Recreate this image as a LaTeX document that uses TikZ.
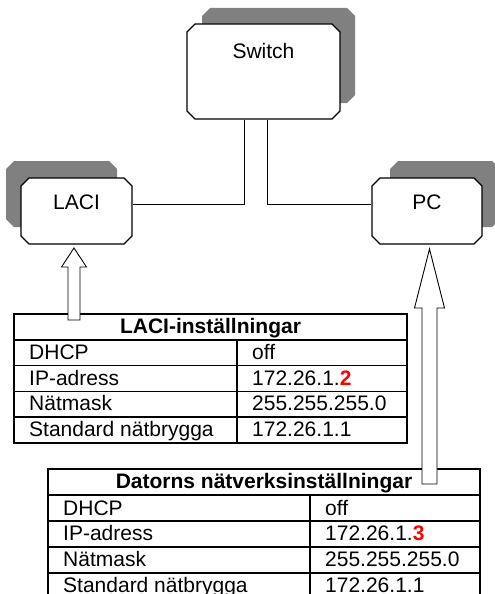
\documentclass[tikz,border=0pt]{standalone}
\usepackage{fontspec}
\setmainfont{Liberation Sans}
\usetikzlibrary{calc,shapes.misc,shadows}
\definecolor{shadegray}{RGB}{128,128,128}
\definecolor{ipred}{RGB}{255,0,0}
\def\hollowarrow[#1](#2)(#3:#4:#5:#6){\draw[#1] ($(#2)+({-#4},0)$) -- ($(#2)+({-#4},{#3-#6})$) -- ($(#2)+({-#5},{#3-#6})$) -- ($(#2)+(0,#3)$) -- ($(#2)+(#5,{#3-#6})$) -- ($(#2)+(#4,{#3-#6})$) -- ($(#2)+(#4,0)$) -- cycle;}
\tikzset{
  devbox/.style={chamfered rectangle, chamfered rectangle xsep=4pt, chamfered rectangle ysep=4pt,
    draw, line width=1.1pt, fill=white, inner sep=0pt, font=\fontsize{21}{25}\selectfont},
  wire/.style={line width=1pt},
  tabline/.style={line width=1.6pt},
  cell/.style={anchor=base west, inner sep=0pt, font=\fontsize{21}{25}\selectfont},
  headcell/.style={anchor=base, inner sep=0pt, font=\fontsize{21}{25}\selectfont\bfseries}
}

\begin{document}
\begin{tikzpicture}[x=1pt, y=1pt]
  %%%%% START %%%%%
  \clip (0,0) rectangle (495,-594);

  \node[devbox, general shadow={fill=shadegray, shadow xshift=15pt, shadow yshift=16pt},
    minimum width=153pt, minimum height=95pt, text depth=42pt] (switch) at (263.5,-71.5) {Switch};
  \node[devbox, general shadow={fill=shadegray, shadow xshift=-15pt, shadow yshift=17pt},
    minimum width=111pt, minimum height=66pt, text depth=18pt] (laci) at (76.5,-211) {LACI};
  \node[devbox, general shadow={fill=shadegray, shadow xshift=18pt, shadow yshift=17pt},
    minimum width=110pt, minimum height=66pt, text depth=18pt] (pc) at (427,-211) {PC};

  \draw[wire] ([xshift=-19.5pt]switch.south) |- ([yshift=7pt]laci.east);
  \draw[wire] ([xshift=3.5pt]switch.south) |- ([yshift=7pt]pc.west);

  % LACI table
  \draw[tabline] (14,-314) rectangle (407,-443);
  \draw[tabline] (14,-339.8) -- (407,-339.8);
  \draw[tabline] (14,-365.6) -- (407,-365.6);
  \draw[tabline] (14,-391.4) -- (407,-391.4);
  \draw[tabline] (14,-417.2) -- (407,-417.2);
  \draw[tabline] (237,-339.8) -- (237,-443);

  \node[headcell] (lacihead) at (210.5,-333.5) {LACI-inställningar};
  \node[cell] (lacidhcp) at (29,-359.3) {DHCP};
  \node[cell] (laciip) at (29,-385.1) {IP-adress};
  \node[cell] (lacimask) at (29,-410.9) {Nätmask};
  \node[cell] (lacigw) at (29,-436.7) {Standard nätbrygga};
  \node[cell] (lacidhcpval) at (252,-359.3) {off};
  \node[cell] (laciipval) at (252,-385.1) {172.26.1.\textcolor{ipred}{\bfseries 2}};
  \node[cell] (lacimaskval) at (252,-410.9) {255.255.255.0};
  \node[cell] (lacigwval) at (252,-436.7) {172.26.1.1};

  % PC table
  \draw[tabline] (48,-469) rectangle (480,-599);
  \draw[tabline] (48,-495) -- (480,-495);
  \draw[tabline] (48,-521) -- (480,-521);
  \draw[tabline] (48,-547) -- (480,-547);
  \draw[tabline] (48,-573) -- (480,-573);
  \draw[tabline] (310,-495) -- (310,-599);

  \node[headcell] (pchead) at (264,-488.3) {Datorns nätverksinställningar};
  \node[cell] (pcdhcp) at (63,-515) {DHCP};
  \node[cell] (pcip) at (63,-540.8) {IP-adress};
  \node[cell] (pcmask) at (63,-566.6) {Nätmask};
  \node[cell] (pcgw) at (63,-592.2) {Standard nätbrygga};
  \node[cell] (pcdhcpval) at (325,-515) {off};
  \node[cell] (pcipval) at (325,-540.8) {172.26.1.\textcolor{ipred}{\bfseries 3}};
  \node[cell] (pcmaskval) at (325,-566.6) {255.255.255.0};
  \node[cell] (pcgwval) at (325,-592.2) {172.26.1.1};

  \coordinate (laciarrow) at (74,-320);
  \hollowarrow[line width=0.9pt, fill=white](laciarrow)(72:6:12.5:19);
  \coordinate (pcarrow) at (429.5,-484);
  \hollowarrow[line width=0.9pt, fill=white](pcarrow)(235:7.5:15:59);

  %%%%% END %%%%%
\end{tikzpicture}
\end{document}
